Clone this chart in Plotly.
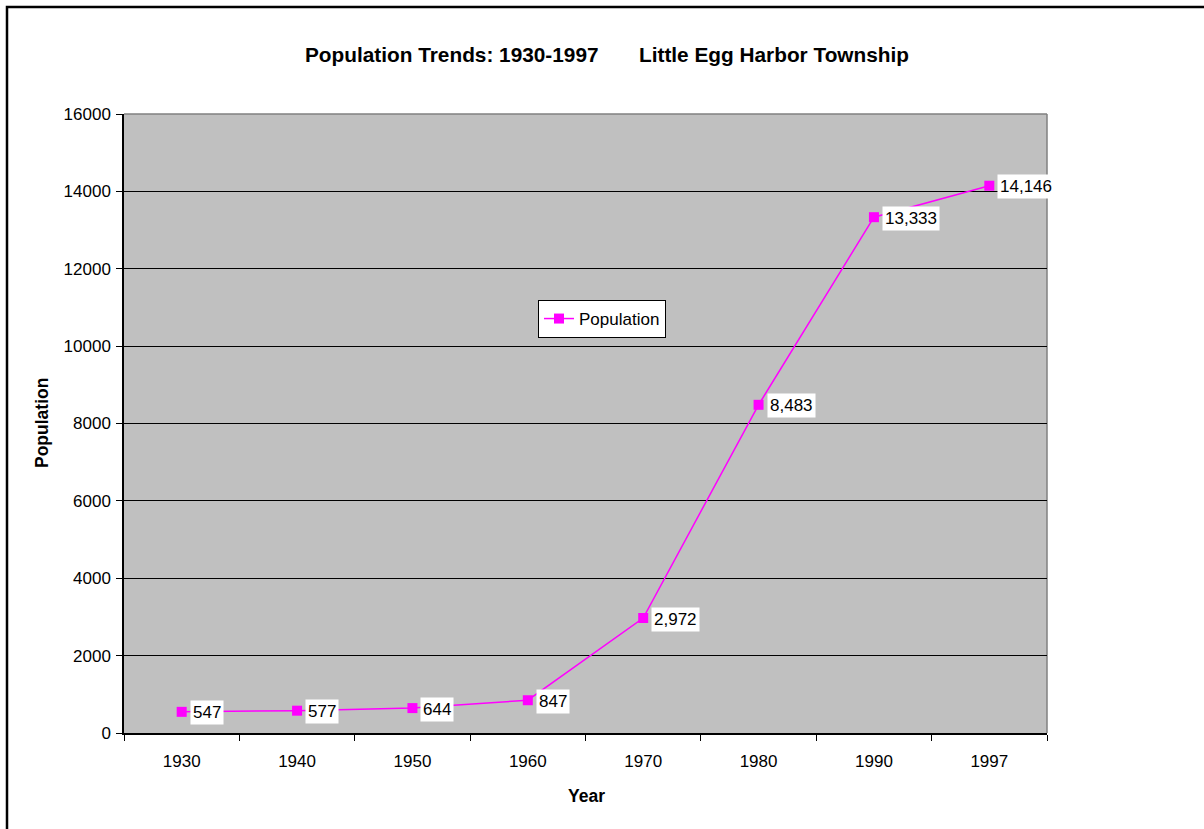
import plotly.graph_objects as go

years = ["1930", "1940", "1950", "1960", "1970", "1980", "1990", "1997"]
population = [547, 577, 644, 847, 2972, 8483, 13333, 14146]
y_ticks = [0, 2000, 4000, 6000, 8000, 10000, 12000, 14000, 16000]

W, H = 1204, 829
L, R, T, B = 124, 157, 114, 96
PW, PH = W - L - R, H - T - B

FONT = "Liberation Sans, Arial, sans-serif"
MAG = "#FF00FF"

fig = go.Figure()
fig.add_trace(go.Scatter(
    x=years, y=population, mode="lines+markers", name="Population",
    line=dict(color=MAG, width=1.5),
    marker=dict(symbol="square", size=10, color=MAG),
    cliponaxis=False,
))

annotations = []
for i, v in enumerate(population):
    annotations.append(dict(
        x=i, y=v, xref="x", yref="y", text=f"{v:,}", showarrow=False,
        xanchor="left", yanchor="middle", xshift=8, yshift=-1,
        bgcolor="white", borderpad=2,
        font=dict(family=FONT, size=17, color="black"),
    ))

def px_x(p):
    return (p - L) / PW

def px_y(p):
    return (H - B - p) / PH

annotations.append(dict(
    x=px_x(42), y=px_y(423), xref="paper", yref="paper", text="<b>Population</b>",
    showarrow=False, textangle=-90, xanchor="center", yanchor="middle",
    font=dict(family=FONT, size=17.5, color="black"),
))
annotations.append(dict(
    x=px_x(586), y=px_y(796), xref="paper", yref="paper", text="<b>Year</b>",
    showarrow=False, xanchor="center", yanchor="middle",
    font=dict(family=FONT, size=17.5, color="black"),
))

shapes = [
    dict(type="rect", xref="paper", yref="paper",
         x0=px_x(7), x1=px_x(1215), y0=px_y(7), y1=px_y(845),
         line=dict(color="black", width=2.5), fillcolor="rgba(0,0,0,0)", layer="above"),
    dict(type="line", xref="paper", yref="paper", x0=0, x1=1, y0=1, y1=1,
         line=dict(color="#808080", width=1.5), layer="below"),
    dict(type="line", xref="paper", yref="paper", x0=1, x1=1, y0=0, y1=1,
         line=dict(color="#808080", width=1.5), layer="below"),
]

fig.update_layout(
    width=W, height=H,
    margin=dict(l=L, r=R, t=T, b=B, pad=0),
    paper_bgcolor="white", plot_bgcolor="#C0C0C0",
    font=dict(family=FONT, size=17, color="black"),
    title=dict(
        text="<b>Population Trends: 1930-1997       Little Egg Harbor Township</b>",
        x=607 / W, xref="container", xanchor="center",
        y=1 - 55 / H, yref="container", yanchor="middle",
        font=dict(family=FONT, size=20.8, color="black"),
    ),
    showlegend=True,
    legend=dict(
        x=px_x(538), y=px_y(300), xanchor="left", yanchor="top",
        bgcolor="white", bordercolor="black", borderwidth=1,
        font=dict(family=FONT, size=17, color="black"),
        itemwidth=30, tracegroupgap=0,
    ),
    xaxis=dict(
        type="category", categoryorder="array", categoryarray=years,
        range=[-0.5, len(years) - 0.5],
        showgrid=False, showline=True, linecolor="black", linewidth=1.5,
        ticks="outside", tickson="boundaries", ticklen=6, tickcolor="black",
        tickfont=dict(family=FONT, size=17), ticklabelstandoff=12,
        zeroline=False,
    ),
    yaxis=dict(
        range=[0, 16000], tickvals=y_ticks, ticktext=[str(t) for t in y_ticks],
        showgrid=True, gridcolor="black", gridwidth=1,
        showline=True, linecolor="black", linewidth=1.5,
        ticks="outside", ticklen=6, tickcolor="black",
        tickfont=dict(family=FONT, size=17), ticklabelstandoff=2,
        zeroline=False,
    ),
    annotations=annotations,
    shapes=shapes,
)

fig.write_html("out.html", config={"displayModeBar": False},
               post_script="document.body.style.margin='0';document.body.style.overflow='hidden';")
